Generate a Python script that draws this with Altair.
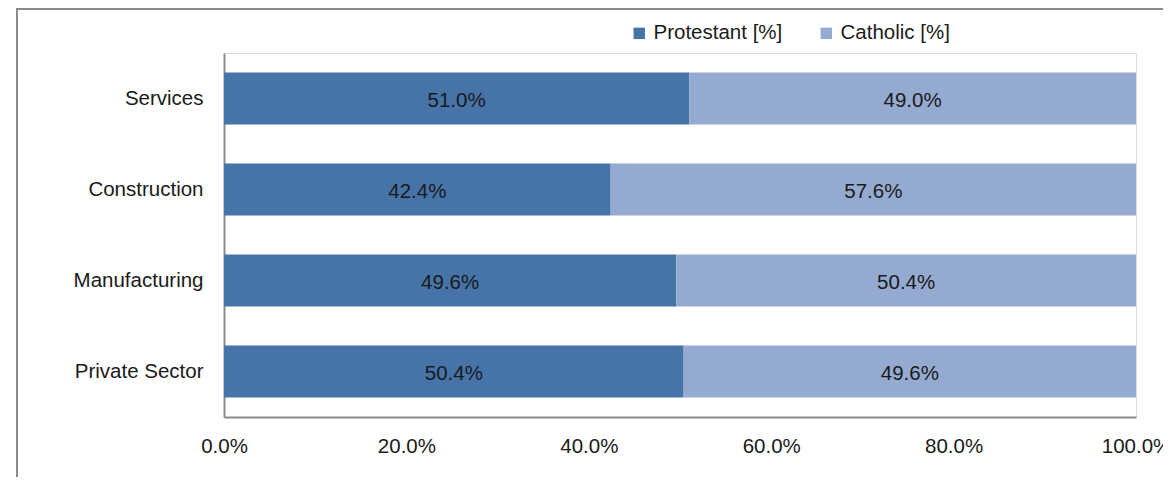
import altair as alt
import pandas as pd

sectors = ["Services", "Construction", "Manufacturing", "Private Sector"]
protestant = [51.0, 42.4, 49.6, 50.4]
catholic = [49.0, 57.6, 50.4, 49.6]
groups = ["Protestant [%]", "Catholic [%]"]
colors = ["#4673A8", "#95AAD0"]
x_ticks = [0, 0.2, 0.4, 0.6, 0.8, 1.0]

rows = []
for s, p, c in zip(sectors, protestant, catholic):
    rows.append({"sector": s, "group": groups[0], "order": 0, "value": p / 100})
    rows.append({"sector": s, "group": groups[1], "order": 1, "value": c / 100})
df = pd.DataFrame(rows)

W, H = 912, 364
FONT = "Liberation Sans"
FS = 20.5

base = alt.Chart(df).transform_stack(
    stack="value", groupby=["sector"], as_=["x0", "x1"],
    sort=[alt.SortField("order", order="ascending")]
).transform_calculate(mid="(datum.x0 + datum.x1) / 2")

y_enc = alt.Y("sector:N", sort=sectors, title=None,
              scale=alt.Scale(paddingInner=0.43, paddingOuter=0.215),
              axis=alt.Axis(ticks=False, labelFontSize=FS, labelFont=FONT,
                            labelColor="#1a1a1a", labelPadding=21,
                            domainColor="#8a8a8a", domainWidth=2))

bars = base.mark_bar().encode(
    x=alt.X("x0:Q", title=None,
            scale=alt.Scale(domain=[0, 1], nice=False),
            axis=alt.Axis(values=x_ticks, format=".1%", ticks=False, grid=False,
                          labelFlush=False, labelOverlap=False,
                          labelFontSize=FS, labelFont=FONT, labelColor="#1a1a1a",
                          labelPadding=19, domainColor="#8a8a8a", domainWidth=2)),
    x2="x1:Q",
    y=y_enc,
    color=alt.Color("group:N", sort=groups,
                    scale=alt.Scale(domain=groups, range=colors),
                    legend=alt.Legend(title=None, orient="none", direction="horizontal",
                                      legendX=405, legendY=-30,
                                      symbolType="square", symbolSize=130,
                                      symbolStrokeWidth=0,
                                      labelFontSize=FS, labelFont=FONT,
                                      labelColor="#1a1a1a", columnPadding=33,
                                      labelOffset=4)),
)

labels = base.mark_text(fontSize=FS, font=FONT, color="#1a1a1a", dy=2).encode(
    x=alt.X("mid:Q"),
    y=alt.Y("sector:N", sort=sectors),
    text=alt.Text("value:Q", format=".1%"),
)

frame = alt.Chart(df).mark_rect(fill=None, stroke="#8a8a8a", strokeWidth=2).encode(
    x=alt.value(-207), x2=alt.value(W + 200),
    y=alt.value(-44), y2=alt.value(H + 200),
)

chart = alt.layer(frame, bars, labels).properties(
    width=W, height=H,
    autosize=alt.AutoSizeParams(type="none"),
    padding={"left": 216, "top": 45, "right": 27, "bottom": 60},
).configure_view(stroke=None).configure(background="white")

chart.save("out.html", embed_options={"renderer": "svg", "actions": False})
